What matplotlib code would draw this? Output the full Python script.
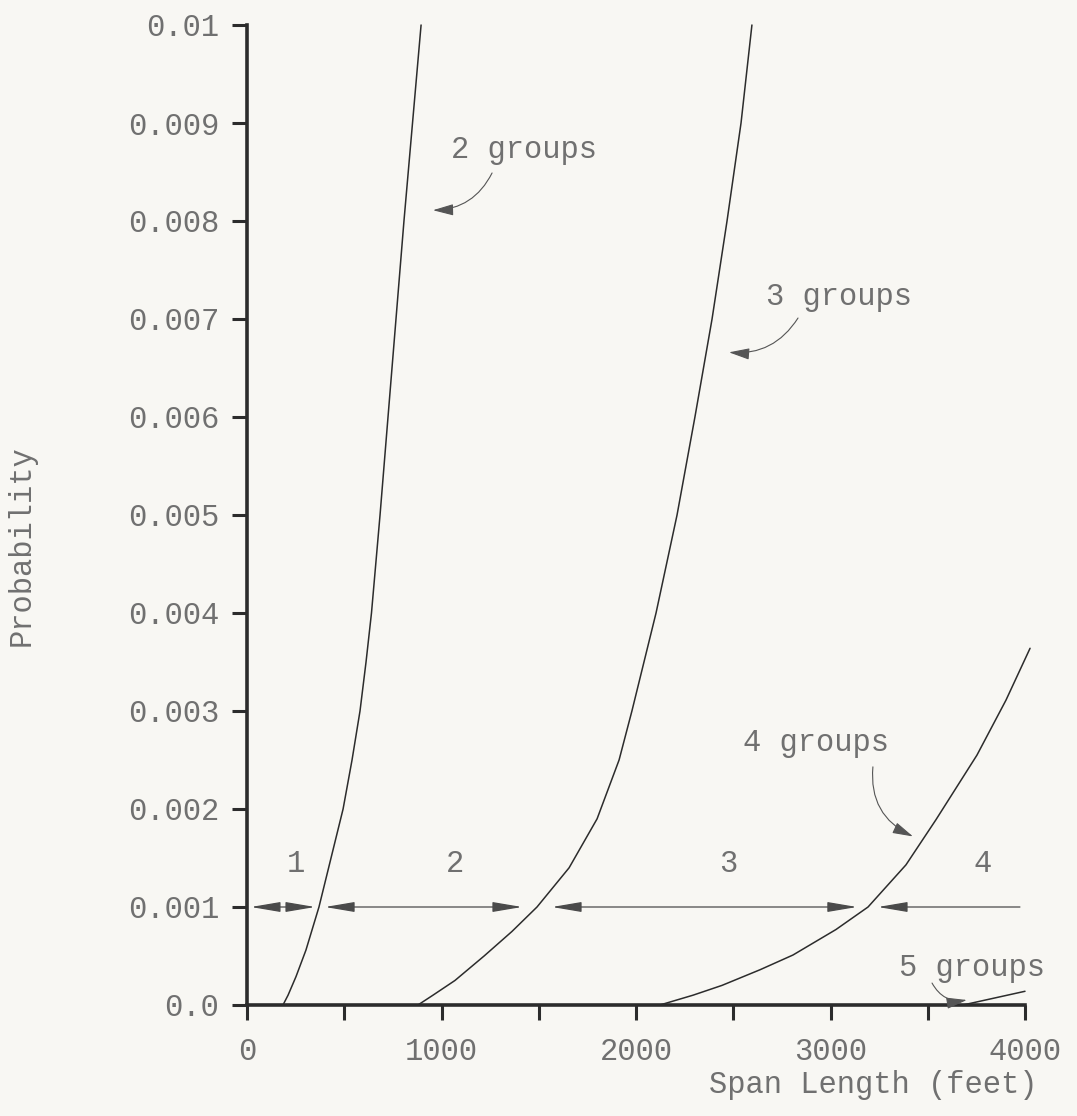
import matplotlib
matplotlib.use("Agg")
import matplotlib.pyplot as plt
from matplotlib.ticker import MultipleLocator, FixedLocator, FixedFormatter

# ---- data -------------------------------------------------------------
span_2 = [185, 211, 252, 303, 370, 432, 494, 540, 581, 612, 640, 684, 725,
          766, 807, 851, 895]
prob_2 = [0.0, 0.0001, 0.00029, 0.00056, 0.001, 0.0015, 0.002, 0.0025, 0.003,
          0.0035, 0.004, 0.005, 0.006, 0.007, 0.008, 0.009, 0.010]

span_3 = [879, 956, 1069, 1219, 1362, 1491, 1656, 1800, 1913, 1979, 2103,
          2211, 2303, 2391, 2468, 2540, 2596]
prob_3 = [0.0, 0.0001, 0.00025, 0.0005, 0.00075, 0.001, 0.0014, 0.0019, 0.0025,
          0.003, 0.004, 0.005, 0.006, 0.007, 0.008, 0.009, 0.010]

span_4 = [2123, 2293, 2442, 2638, 2807, 3028, 3193, 3388, 3542, 3753, 3902, 4026]
prob_4 = [0.0, 0.0001, 0.0002, 0.00036, 0.00051, 0.00077, 0.001, 0.00143,
          0.00189, 0.00255, 0.00311, 0.00364]

span_5 = [3681, 4000]
prob_5 = [0.0, 0.00014]

# ranges of span length served by each number of groups (at P = 0.001)
range_level = 0.001
range_labels = ["1", "2", "3", "4"]
range_starts = [20, 401, 1568, 3244]
range_ends = [350, 1414, 3136, 3974]
range_label_x = [252, 1069, 2473, 3784]

x_ticks = [0, 1000, 2000, 3000, 4000]
x_tick_labels = ["0", "1000", "2000", "3000", "4000"]
y_ticks = [0.0, 0.001, 0.002, 0.003, 0.004, 0.005, 0.006, 0.007, 0.008, 0.009, 0.01]
y_tick_labels = ["0.0", "0.001", "0.002", "0.003", "0.004", "0.005", "0.006",
                 "0.007", "0.008", "0.009", "0.01"]

# curve labels: text position, arrow start, arrow tip, arc bend
curve_labels = ["2 groups", "3 groups", "4 groups", "5 groups"]
curve_label_pos = [(1424, 0.00872), (3043, 0.00722), (2925, 0.00267), (3727, 0.000378)]
curve_arrow_from = [(1260, 0.00849), (2833, 0.00701), (3218, 0.00243), (3522, 0.000224)]
curve_arrow_to = [(956, 0.00811), (2478, 0.00666), (3424, 0.00172), (3701, 0.000051)]
curve_arrow_rad = [-0.3, -0.3, 0.35, 0.35]

# ---- style ------------------------------------------------------------
paper = "#f8f7f3"
ink = "#2c2c2c"
type_grey = "#707070"
font = ["Liberation Mono", "DejaVu Sans Mono"]
plt.rcParams["font.family"] = font

fig = plt.figure(figsize=(10.77, 11.16), dpi=100, facecolor=paper)
ax = fig.add_axes([247 / 1077, 1 - 1005 / 1116, 778 / 1077, 980 / 1116])
ax.set_facecolor(paper)

for s, p in [(span_2, prob_2), (span_3, prob_3), (span_4, prob_4), (span_5, prob_5)]:
    ax.plot(s, p, color=ink, lw=1.1, clip_on=False, solid_capstyle="round",
            solid_joinstyle="round")

# span ranges at the 0.001 level
for lab, x0, x1, xl in zip(range_labels, range_starts, range_ends, range_label_x):
    style = "<|-|>" if lab != "4" else "<|-"
    ax.annotate("", xy=(x1, range_level), xytext=(x0, range_level),
                arrowprops=dict(arrowstyle=style + ",head_length=1.3,head_width=0.22",
                                color="#4a4a4a", lw=0.9, shrinkA=0, shrinkB=0,
                                mutation_scale=14))
    ax.text(xl, 0.00144, lab, ha="center", va="center", fontsize=22,
            color=type_grey)

# curve labels with hand-drawn style pointers
for lab, pos, a0, a1, rad in zip(curve_labels, curve_label_pos, curve_arrow_from,
                                 curve_arrow_to, curve_arrow_rad):
    ax.text(pos[0], pos[1], lab, ha="center", va="center", fontsize=22,
            color=type_grey)
    ax.annotate("", xy=a1, xytext=a0,
                arrowprops=dict(arrowstyle="-|>,head_length=0.9,head_width=0.25",
                                connectionstyle=f"arc3,rad={rad}",
                                color="#555555", lw=0.8, shrinkA=0, shrinkB=0,
                                mutation_scale=14))

ax.set_xlim(0, 4000)
ax.set_ylim(0, 0.01)
for side in ("top", "right"):
    ax.spines[side].set_visible(False)
for side in ("left", "bottom"):
    ax.spines[side].set_color(ink)
    ax.spines[side].set_linewidth(2.6)

ax.xaxis.set_major_locator(FixedLocator(x_ticks))
ax.xaxis.set_major_formatter(FixedFormatter(x_tick_labels))
ax.xaxis.set_minor_locator(MultipleLocator(500))
ax.yaxis.set_major_locator(FixedLocator(y_ticks))
ax.yaxis.set_major_formatter(FixedFormatter(y_tick_labels))

ax.tick_params(axis="both", which="both", direction="out", length=11,
               width=2.2, color=ink, labelcolor=type_grey, labelsize=22)
ax.tick_params(axis="x", which="major", pad=12)
ax.tick_params(axis="y", which="major", pad=9)

fig.text(873 / 1077, 1 - 1085 / 1116, "Span Length (feet)", ha="center",
         va="center", fontsize=22, color=type_grey)
fig.text(22 / 1077, 1 - 546 / 1116, "Probability", ha="center", va="center",
         rotation=90, fontsize=22, color=type_grey)

fig.savefig("out.png", dpi=100, facecolor=paper)
